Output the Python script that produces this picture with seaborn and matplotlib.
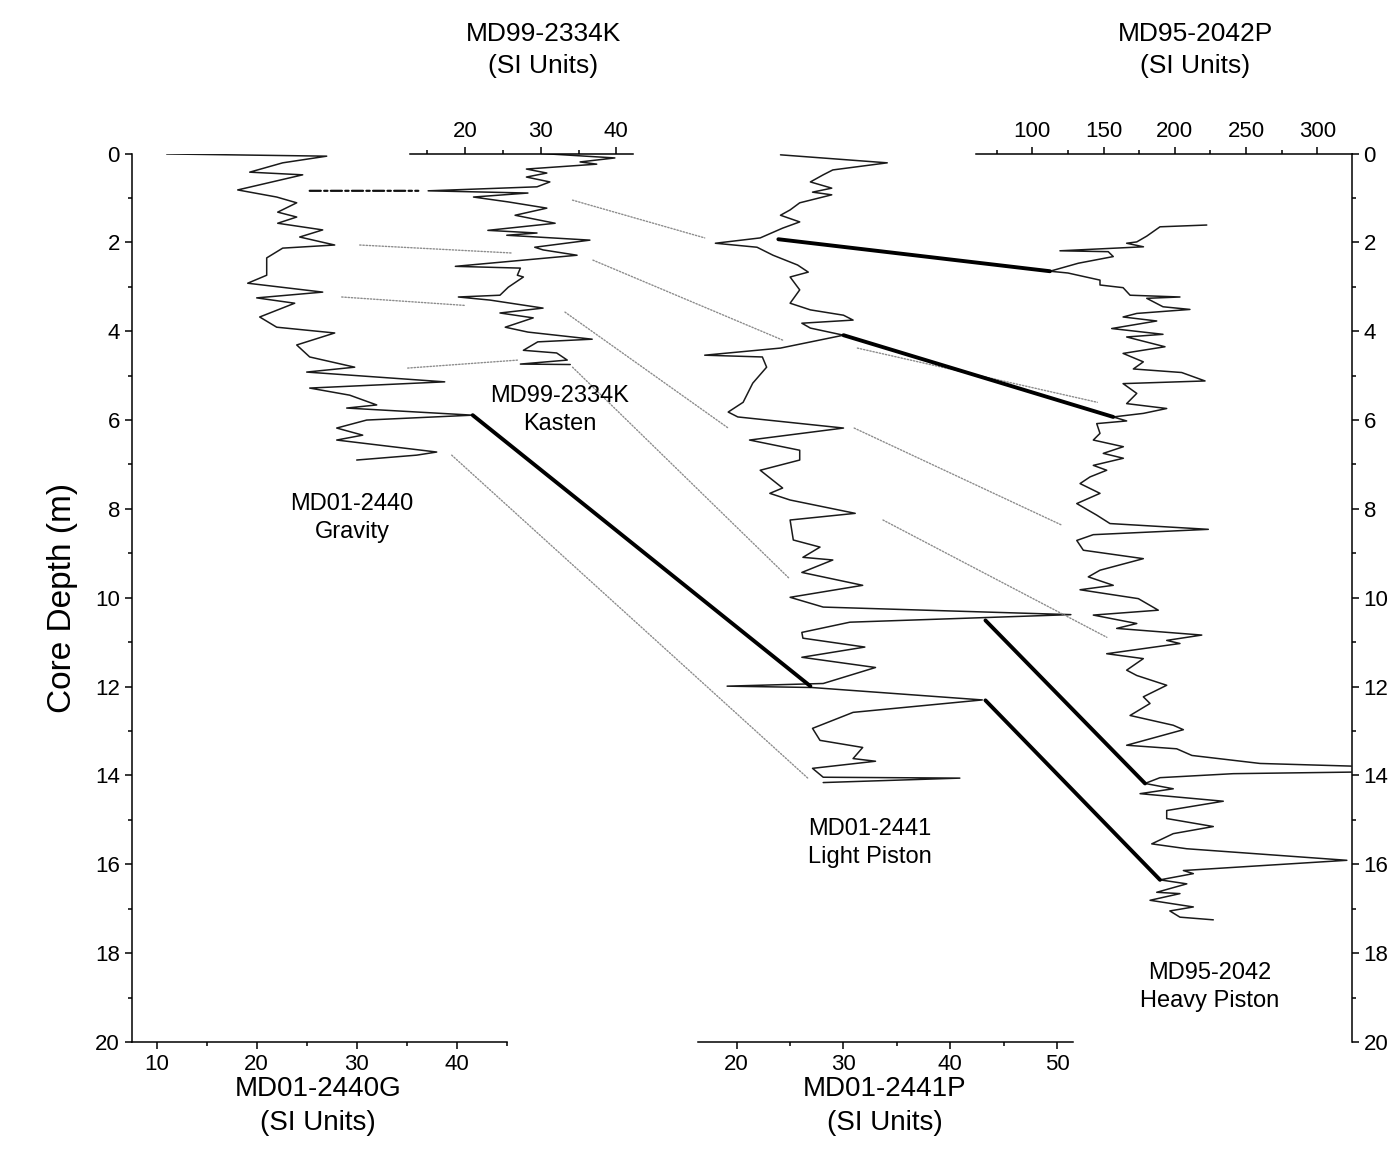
import matplotlib
matplotlib.use("Agg")
import matplotlib.pyplot as plt
from matplotlib.patches import ConnectionPatch
from matplotlib.ticker import MultipleLocator
import seaborn as sns

# ---- core records (depth in m, magnetic susceptibility in SI units) ----
depth_2440g = [0.01, 0.06, 0.21, 0.42, 0.48, 0.82, 0.98, 1.11, 1.32, 1.43, 1.57, 1.72, 1.88, 2.06,
               2.13, 2.35, 2.74, 2.92, 3.12, 3.25, 3.37, 3.68, 3.91, 4.04, 4.31, 4.58, 4.81, 4.92,
               5.14, 5.28, 5.44, 5.66, 5.73, 5.89, 6.00, 6.18, 6.34, 6.45, 6.72, 6.79, 6.90]
susc_2440g = [11.0, 27.0, 22.6, 19.3, 24.6, 18.1, 22.0, 24.0, 22.1, 24.0, 22.1, 26.6, 24.3, 27.8,
              22.6, 21.0, 21.0, 19.1, 26.6, 20.0, 23.8, 20.3, 22.0, 27.8, 24.0, 25.3, 29.8, 25.0,
              38.8, 25.3, 29.3, 32.0, 29.0, 41.6, 31.0, 28.0, 30.6, 28.0, 38.0, 36.0, 30.0]

depth_2334k = [0.00, 0.10, 0.19, 0.24, 0.35, 0.44, 0.53, 0.64, 0.75, 0.84, 0.89, 0.98, 1.09, 1.23,
               1.39, 1.57, 1.73, 1.79, 1.84, 1.95, 2.11, 2.17, 2.29, 2.54, 2.58, 2.74, 2.78, 3.01,
               3.19, 3.23, 3.30, 3.48, 3.59, 3.70, 3.91, 4.02, 4.18, 4.24, 4.43, 4.49, 4.65, 4.74, 4.75]
susc_2334k = [30.1, 39.8, 35.2, 37.4, 28.1, 30.8, 28.1, 31.2, 29.5, 15.1, 28.3, 21.1, 25.7, 30.8,
              26.6, 31.9, 23.0, 29.5, 25.5, 36.5, 29.2, 30.3, 34.8, 18.7, 27.3, 26.9, 27.7, 25.7,
              24.6, 19.1, 23.3, 30.3, 24.6, 29.0, 25.3, 28.3, 36.8, 29.6, 27.7, 32.1, 33.5, 27.3, 33.9]

depth_2441p = [0.03, 0.21, 0.37, 0.48, 0.64, 0.78, 0.87, 0.93, 1.11, 1.27, 1.39, 1.54, 1.68, 1.90,
               2.02, 2.11, 2.29, 2.51, 2.67, 2.78, 3.07, 3.37, 3.52, 3.64, 3.75, 3.82, 3.93, 4.09,
               4.38, 4.54, 4.58, 4.81, 5.17, 5.60, 5.82, 5.93, 6.18, 6.45, 6.68, 6.90, 7.13, 7.53,
               7.65, 7.80, 8.10, 8.25, 8.70, 8.86, 9.09, 9.15, 9.43, 9.72, 9.99, 10.21, 10.38, 10.55,
               10.78, 10.91, 11.11, 11.34, 11.57, 11.93, 11.99, 12.02, 12.30, 12.58, 12.94, 13.21,
               13.37, 13.62, 13.68, 13.84, 14.04, 14.06, 14.16]
susc_2441p = [24.1, 34.1, 29.0, 28.1, 26.9, 28.9, 27.1, 28.9, 25.9, 25.0, 24.1, 25.9, 24.3, 22.2,
              18.0, 21.9, 23.4, 25.7, 26.7, 25.0, 25.9, 25.0, 26.9, 30.0, 30.9, 26.1, 26.9, 30.0,
              24.1, 17.0, 22.4, 22.8, 21.5, 20.6, 19.2, 20.1, 30.0, 21.2, 25.9, 25.9, 22.2, 24.3,
              23.1, 25.0, 31.1, 25.0, 25.3, 27.8, 26.2, 29.0, 26.1, 31.8, 25.0, 28.1, 51.3, 30.6,
              26.1, 26.2, 32.0, 26.1, 33.0, 28.1, 19.1, 27.0, 43.0, 30.9, 27.1, 27.8,
              31.8, 30.9, 33.0, 27.1, 28.1, 40.9, 28.1]

depth_2042p = [1.61, 1.65, 1.86, 1.99, 2.02, 2.10, 2.19, 2.21, 2.32, 2.47, 2.65, 2.69, 2.74, 2.85,
               2.96, 3.02, 3.19, 3.23, 3.26, 3.45, 3.51, 3.60, 3.68, 3.77, 3.94, 4.07, 4.13, 4.35,
               4.50, 4.69, 4.85, 4.93, 5.12, 5.18, 5.40, 5.63, 5.74, 5.85, 5.93, 6.02, 6.08, 6.30,
               6.45, 6.60, 6.75, 6.86, 7.02, 7.13, 7.28, 7.43, 7.65, 7.88, 8.14, 8.33, 8.46, 8.58,
               8.71, 8.93, 9.12, 9.38, 9.53, 9.72, 9.82, 10.02, 10.28, 10.39, 10.58, 10.69, 10.84,
               10.96, 11.03, 11.26, 11.37, 11.63, 11.75, 11.97, 12.23, 12.38, 12.65, 12.87, 12.97,
               13.32, 13.40, 13.55, 13.73, 13.80, 13.92, 13.96, 14.05, 14.18, 14.30, 14.41, 14.58,
               14.79, 14.97, 15.15, 15.31, 15.54, 15.65, 15.91, 16.14, 16.21, 16.35, 16.44, 16.63,
               16.66, 16.81, 16.96, 17.05, 17.19, 17.25]
susc_2042p = [222.4, 189.6, 180.3, 173.3, 166.2, 178.0, 119.4, 153.3, 156.8, 132.3, 112.4, 125.0,
              132.0, 147.5, 147.5, 163.7, 168.6, 203.6, 180.3, 191.7, 210.6, 173.3, 163.7, 187.3,
              155.7, 191.7, 166.2, 193.1, 163.7, 177.9, 170.9, 204.8, 221.2, 163.7, 173.3, 166.2,
              194.3, 177.9, 156.8, 166.2, 145.2, 147.5, 142.8, 163.9, 149.8, 163.9, 142.8, 152.2,
              140.5, 133.5, 147.5, 131.2, 145.2, 154.5, 223.5, 142.8, 131.2, 135.8, 177.9, 147.5,
              139.3, 156.8, 133.5, 174.4, 188.4, 142.8, 173.3, 159.2, 218.9, 194.3, 203.6, 152.2,
              177.9, 166.2, 173.3, 194.3, 177.9, 182.6, 168.6, 198.9, 206.0, 166.2, 201.3, 212.0,
              259.8, 335.0, 335.0, 241.0, 189.6, 179.1, 198.9, 175.6, 234.0, 194.3, 194.3, 227.0,
              198.9, 183.8, 208.4, 320.7, 206.0, 213.0, 189.6, 208.4, 187.3, 203.6, 182.6, 213.0,
              196.5, 203.6, 227.0]

# ---- tie points between cores: (core, value, depth) -> (core, value, depth) ----
ties_solid = [
    ("2440G", 41.6, 5.89, "2441P", 26.9, 11.99),
    ("2441P", 23.9, 1.93, "2042P", 112.4, 2.65),
    ("2441P", 30.0, 4.09, "2042P", 156.8, 5.93),
    ("2441P", 43.3, 10.51, "2042P", 179.1, 14.18),
    ("2441P", 43.3, 12.31, "2042P", 189.6, 16.35),
]
ties_dashdot = [
    ("2440G", 25.3, 0.84, "2334K", 13.8, 0.84),
]
ties_dotted = [
    ("2440G", 30.3, 2.06, "2334K", 26.2, 2.24),
    ("2440G", 28.5, 3.23, "2334K", 20.0, 3.42),
    ("2440G", 35.1, 4.83, "2334K", 27.0, 4.65),
    ("2334K", 34.2, 1.05, "2441P", 17.0, 1.90),
    ("2334K", 36.9, 2.40, "2441P", 24.3, 4.20),
    ("2334K", 33.2, 3.57, "2441P", 19.2, 6.18),
    ("2334K", 34.2, 4.81, "2441P", 24.9, 9.56),
    ("2440G", 39.5, 6.79, "2441P", 26.7, 14.07),
    ("2441P", 31.3, 4.38, "2042P", 145.6, 5.60),
    ("2441P", 31.0, 6.18, "2042P", 121.0, 8.37),
    ("2441P", 33.7, 8.25, "2042P", 152.3, 10.89),
]

depth_ticks = list(range(0, 21, 2))

sns.set_style("ticks")
plt.rcParams["font.family"] = ["Liberation Sans", "DejaVu Sans"]
plt.rcParams["axes.linewidth"] = 1.1
plt.rcParams["axes.edgecolor"] = "black"
plt.rcParams["xtick.color"] = "black"
plt.rcParams["ytick.color"] = "black"
plt.rcParams["text.color"] = "black"
plt.rcParams["axes.labelcolor"] = "black"

W, H = 1395, 1172
fig = plt.figure(figsize=(W / 100, H / 100), dpi=100)

top_px, bot_px = 153.5, 1042.0
bottom = 1 - bot_px / H
height = (bot_px - top_px) / H


def frac(x0, x1):
    return [x0 / W, bottom, (x1 - x0) / W, height]


# depth frame with ticks on both sides
ax0 = fig.add_axes(frac(131.7, 1351.7))
ax0.set_ylim(20, 0)
ax0.set_xlim(0, 1)
ax0.set_xticks([])
for s in ["top", "bottom"]:
    ax0.spines[s].set_visible(False)
ax0.set_yticks(depth_ticks)
ax0.yaxis.set_minor_locator(MultipleLocator(1))
ax0.tick_params(axis="y", which="both", left=True, right=True, labelleft=True,
                labelright=True, direction="out", labelsize=16, width=1.1)
ax0.tick_params(axis="y", which="major", length=5)
ax0.tick_params(axis="y", which="minor", length=3)
ax0.set_ylabel("Core Depth (m)", fontsize=24, labelpad=12)
ax0.patch.set_alpha(0)

cores = {
    "2440G": dict(pos=(131.7, 506.7), xlim=(7.5, 45.0), side="bottom", major=10, minor=5,
                  depth=depth_2440g, susc=susc_2440g),
    "2334K": dict(pos=(410.0, 633.0), xlim=(12.7, 42.2), side="top", major=10, minor=5,
                  depth=depth_2334k, susc=susc_2334k),
    "2441P": dict(pos=(698.3, 1073.0), xlim=(16.4, 51.5), side="bottom", major=10, minor=5,
                  depth=depth_2441p, susc=susc_2441p),
    "2042P": dict(pos=(976.0, 1351.7), xlim=(60.5, 324.1), side="top", major=50, minor=25,
                  depth=depth_2042p, susc=susc_2042p),
}

axes = {}
for name, c in cores.items():
    ax = fig.add_axes(frac(*c["pos"]))
    ax.patch.set_alpha(0)
    sns.lineplot(x=c["susc"], y=c["depth"], sort=False, estimator=None, orient="y",
                 ax=ax, color="#1a1a1a", lw=1.1)
    ax.set_xlim(*c["xlim"])
    ax.set_ylim(20, 0)
    ax.set_xlabel("")
    ax.set_ylabel("")
    ax.set_yticks([])
    for s in ["left", "right", "top", "bottom"]:
        ax.spines[s].set_visible(s == c["side"])
    ax.xaxis.set_major_locator(MultipleLocator(c["major"]))
    ax.xaxis.set_minor_locator(MultipleLocator(c["minor"]))
    if c["side"] == "top":
        ax.xaxis.tick_top()
    ax.tick_params(axis="x", which="both", direction="out", labelsize=16, width=1.1)
    ax.tick_params(axis="x", which="major", length=5)
    ax.tick_params(axis="x", which="minor", length=3)
    axes[name] = ax


def tie(t, **kw):
    a, va, da, b, vb, db = t
    con = ConnectionPatch(xyA=(va, da), coordsA=axes[a].transData,
                          xyB=(vb, db), coordsB=axes[b].transData, **kw)
    fig.add_artist(con)


for t in ties_dotted:
    tie(t, color="#8c8c8c", lw=1.0, linestyle=(0, (1, 1.3)))
for t in ties_dashdot:
    tie(t, color="#111111", lw=1.6, linestyle=(0, (5, 1.5, 1.5, 1.5)))
for t in ties_solid:
    tie(t, color="black", lw=2.8)

# axis titles
fig.text(318 / W, 1 - 1106 / H, "MD01-2440G\n(SI Units)", ha="center", va="center",
         fontsize=20, linespacing=1.35)
fig.text(885 / W, 1 - 1106 / H, "MD01-2441P\n(SI Units)", ha="center", va="center",
         fontsize=20, linespacing=1.35)
fig.text(543 / W, 1 - 50 / H, "MD99-2334K\n(SI Units)", ha="center", va="center",
         fontsize=19, linespacing=1.4)
fig.text(1195 / W, 1 - 50 / H, "MD95-2042P\n(SI Units)", ha="center", va="center",
         fontsize=19, linespacing=1.4)

# core labels
fig.text(560 / W, 1 - 410 / H, "MD99-2334K\nKasten", ha="center", va="center", fontsize=17,
         linespacing=1.35)
fig.text(352 / W, 1 - 518 / H, "MD01-2440\nGravity", ha="center", va="center", fontsize=17,
         linespacing=1.35)
fig.text(870 / W, 1 - 843 / H, "MD01-2441\nLight Piston", ha="center", va="center", fontsize=17,
         linespacing=1.35)
fig.text(1210 / W, 1 - 987 / H, "MD95-2042\nHeavy Piston", ha="center", va="center", fontsize=17,
         linespacing=1.35)

fig.savefig("out.png", dpi=100)
